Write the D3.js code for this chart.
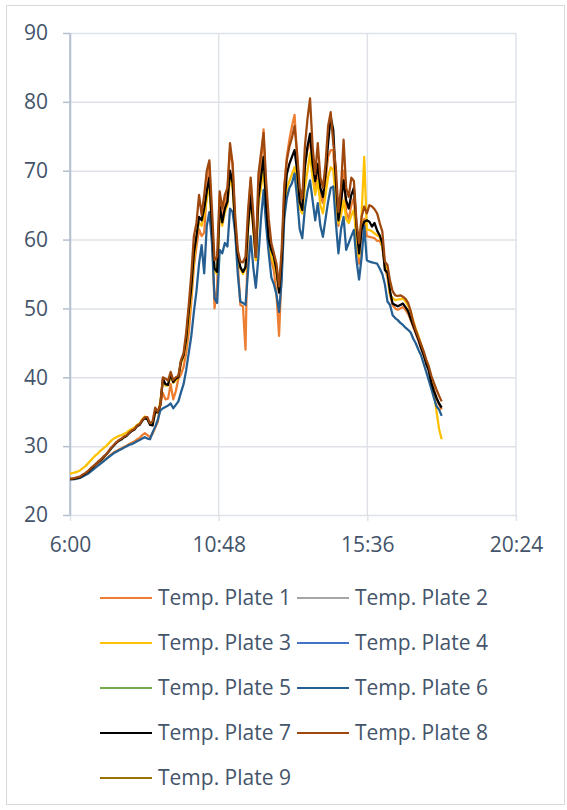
<!DOCTYPE html>
<html><head><meta charset="utf-8">
<script src="https://cdn.jsdelivr.net/npm/d3@7"></script>
<style>
body{margin:0;background:#fff}
svg text{font-family:"Open Sans","Noto Sans",sans-serif;fill:#44546A}
</style>
</head><body>
<svg id="c" width="567" height="810"></svg>
<script>
// ---- data (5-minute samples from 6:00 to 18:00) ----
const startMinute = 360, stepMinutes = 5;
const plate1 = [
25.3,25.3,25.3,25.4,25.5,25.7,25.9,26.1,26.4,26.7,27.0,27.3,
27.6,27.9,28.2,28.5,28.8,29.1,29.3,29.5,29.7,29.9,30.1,30.3,
30.5,30.7,31.0,31.2,31.6,31.9,31.6,31.3,31.8,32.7,33.5,36.0,
37.7,36.8,36.9,39.0,36.8,38.0,39.8,40.4,41.5,43.5,46.5,51.0,
56.0,59.0,61.5,60.5,61.0,67.0,71.0,62.0,50.0,53.0,66.5,63.0,
65.0,67.0,73.0,71.0,62.0,56.5,50.5,50.3,44.0,63.5,68.5,62.5,
57.0,67.5,71.0,76.0,66.0,59.5,57.0,55.5,52.0,46.0,55.5,67.5,
72.0,74.5,76.5,78.1,72.0,66.5,65.5,71.0,73.0,74.5,70.0,67.5,
70.1,66.5,65.3,68.5,72.0,73.0,73.0,66.0,62.0,65.0,70.0,64.0,
63.0,65.0,66.0,60.0,56.5,62.0,63.0,60.5,60.4,60.3,60.2,59.8,
59.8,59.0,56.0,54.5,52.0,50.5,50.0,49.8,50.0,50.2,49.8,49.2,
48.3,47.3,46.3,45.3,44.2,43.2,42.0,41.0,39.5,38.3,37.0,36.0,35.3];
const plate2 = [];
const plate3 = [
26.0,26.1,26.2,26.3,26.5,26.8,27.1,27.5,27.9,28.3,28.7,29.0,
29.4,29.7,30.0,30.4,30.8,31.1,31.3,31.5,31.6,31.8,32.0,32.3,
32.5,32.7,33.1,33.3,33.9,34.3,34.0,33.2,33.1,35.0,34.8,36.5,
39.5,38.8,38.8,40.2,39.2,39.5,40.0,42.0,43.0,45.0,48.5,52.0,
57.0,60.5,62.5,62.0,63.5,66.0,68.0,61.0,55.5,55.0,64.0,62.0,
64.0,65.0,69.0,67.5,61.5,57.5,55.8,55.0,55.8,61.5,66.0,61.5,
57.0,65.0,67.5,70.5,64.0,59.0,57.5,56.5,55.0,52.5,56.0,63.5,
67.5,68.5,69.5,70.5,68.0,64.5,63.8,67.5,70.0,72.5,69.0,66.5,
68.6,65.0,63.8,66.5,69.1,70.5,70.1,65.7,62.4,63.5,65.7,63.0,
62.4,63.5,64.3,60.0,57.5,63.8,72.0,61.4,61.4,61.2,60.9,60.6,
60.4,59.0,56.6,55.0,52.0,51.5,51.2,51.3,51.3,51.5,51.0,50.4,
49.6,48.2,47.0,46.0,44.8,43.5,42.3,41.2,39.5,37.8,35.0,32.5,31.0];
const plate4 = [];
const plate5 = [];
const plate6 = [
25.2,25.2,25.2,25.3,25.4,25.6,25.8,26.0,26.3,26.6,26.9,27.2,
27.5,27.8,28.1,28.4,28.7,29.0,29.2,29.4,29.6,29.8,30.0,30.2,
30.3,30.5,30.7,30.9,31.1,31.3,31.1,31.0,32.0,32.8,33.8,35.2,
35.5,35.7,35.9,36.2,35.5,36.0,36.5,37.8,39.0,41.0,43.5,46.0,
49.5,52.5,56.5,59.2,55.1,62.0,64.0,59.5,51.5,50.8,58.5,58.0,
59.5,59.0,64.5,64.0,61.0,55.0,51.0,50.8,50.5,55.5,60.5,56.0,
53.0,57.5,63.0,67.2,62.0,58.0,54.5,53.5,52.0,49.5,54.0,63.0,
66.0,67.5,68.2,69.6,66.0,61.5,60.2,64.5,67.0,68.6,65.7,62.8,
65.3,62.0,60.4,63.0,65.5,67.5,67.7,62.5,58.0,61.5,63.3,58.5,
59.5,60.5,61.4,57.0,54.2,57.5,62.0,57.0,56.8,56.7,56.6,56.5,
55.8,55.0,53.5,51.0,50.5,49.0,48.6,48.3,47.9,47.6,47.2,46.9,
46.5,45.6,44.9,44.0,43.2,42.0,40.8,39.6,38.3,37.0,35.8,35.3,34.4];
const plate7 = [
25.2,25.2,25.3,25.4,25.5,25.8,26.0,26.3,26.7,27.0,27.4,27.7,
28.0,28.4,28.8,29.2,29.7,30.1,30.5,30.8,31.0,31.3,31.5,31.9,
32.2,32.4,32.9,33.1,33.7,34.1,33.9,33.1,33.0,35.0,34.9,36.0,
39.8,39.0,38.9,40.5,39.3,39.8,40.0,42.3,43.2,45.5,49.5,53.0,
58.0,60.5,63.3,62.8,64.5,67.0,69.0,62.0,55.8,55.3,64.8,62.5,
64.5,65.5,70.0,68.2,62.0,57.8,56.0,55.3,56.0,62.0,66.5,62.0,
57.5,66.0,69.0,72.0,65.0,60.0,58.5,57.5,55.5,52.3,57.0,65.0,
69.5,71.0,72.0,73.0,70.0,65.5,64.3,70.5,73.5,75.4,71.0,68.5,
71.0,67.5,66.2,69.5,74.0,77.8,75.9,68.5,62.8,65.5,68.6,65.7,
64.5,66.5,67.5,62.0,58.0,61.5,62.6,62.8,62.6,61.9,62.4,61.3,
60.6,59.5,55.6,55.2,52.5,50.7,50.5,50.3,50.5,50.7,50.2,49.6,
48.5,47.5,46.5,45.5,44.3,43.3,42.0,41.0,39.2,38.0,37.0,36.2,35.6];
const plate8 = [
25.3,25.3,25.4,25.5,25.6,25.9,26.1,26.4,26.8,27.1,27.4,27.8,
28.1,28.5,28.8,29.3,29.8,30.2,30.6,30.9,31.1,31.4,31.6,32.0,
32.3,32.5,33.0,33.2,33.8,34.2,34.2,33.3,33.6,35.6,35.0,36.0,
40.0,39.8,39.5,40.8,39.6,40.0,40.2,42.5,43.5,46.5,50.5,55.0,
60.5,62.4,66.5,63.6,66.5,70.0,71.5,64.5,57.0,57.5,67.0,64.5,
66.5,67.5,74.0,71.0,63.5,58.5,56.8,56.7,57.5,64.3,69.0,63.8,
57.5,69.5,72.5,75.5,68.5,63.0,59.5,58.0,56.5,53.2,58.5,67.5,
71.5,73.5,74.8,76.5,72.5,67.5,66.0,73.5,77.5,80.5,73.5,69.5,
74.0,69.0,67.5,71.0,76.5,78.5,74.0,70.5,64.0,67.5,74.5,67.5,
66.2,69.0,68.5,62.5,59.5,63.3,64.8,63.8,65.0,64.8,64.4,63.8,
62.4,61.2,56.8,56.3,54.0,52.5,51.9,51.8,51.9,51.7,51.4,50.8,
49.6,48.0,46.8,45.8,44.8,43.8,42.6,41.6,40.2,39.2,38.2,37.3,36.5];
const plate9 = [];

const seriesNames = ["Temp. Plate 1","Temp. Plate 2","Temp. Plate 3","Temp. Plate 4","Temp. Plate 5",
                     "Temp. Plate 6","Temp. Plate 7","Temp. Plate 8","Temp. Plate 9"];
const seriesValues = [plate1,plate2,plate3,plate4,plate5,plate6,plate7,plate8,plate9];
const seriesColors = ["#ED7D31","#A5A5A5","#FFC000","#4472C4","#70AD47","#255E91","#000000","#9E480E","#997300"];
const yTickValues = [20,30,40,50,60,70,80,90];
const xTickHours = [6,10.8,15.6,20.4];
const xTickLabels = ["6:00","10:48","15:36","20:24"];

// ---- drawing ----
const svg = d3.select("#c");
svg.append("rect").attr("x",6.5).attr("y",5.5).attr("width",558).attr("height",799)
  .attr("fill","#fff").attr("stroke","#D9D9D9");

const x = d3.scaleLinear().domain([6,20.4]).range([70,516]);
const y = d3.scaleLinear().domain([20,90]).range([515,33]);
const gridColor = "#DEE2E8", axisColor = "#B4BFCF";
const fontSize = 21;

// horizontal gridlines
svg.append("g").selectAll("line").data(yTickValues.slice(1)).join("line")
  .attr("x1",x(6)).attr("x2",x(20.4)).attr("y1",d=>y(d)+0.5).attr("y2",d=>y(d)+0.5)
  .attr("stroke",gridColor).attr("stroke-width",1.5);
// vertical gridlines
svg.append("g").selectAll("line").data(xTickHours.slice(1)).join("line")
  .attr("x1",d=>x(d)).attr("x2",d=>x(d)).attr("y1",y(90)).attr("y2",y(20))
  .attr("stroke",gridColor).attr("stroke-width",1.5);

// y axis
const yAxis = svg.append("g").attr("transform",`translate(${x(6)},0)`)
  .call(d3.axisLeft(y).tickValues(yTickValues).tickSize(7).tickSizeOuter(0).tickPadding(15).tickFormat(d3.format("d")));
yAxis.select(".domain").attr("stroke",axisColor).attr("stroke-width",1.5);
yAxis.selectAll(".tick line").attr("stroke",axisColor).attr("stroke-width",1.5);
yAxis.selectAll("text").attr("font-size",fontSize).style("fill","#44546A").attr("font-family",null);

// x axis
const xAxis = svg.append("g").attr("transform",`translate(0,${y(20)})`)
  .call(d3.axisBottom(x).tickValues(xTickHours).tickSize(6).tickSizeOuter(0).tickPadding(16)
    .tickFormat((d,i)=>xTickLabels[i]));
xAxis.select(".domain").attr("stroke",gridColor).attr("stroke-width",1.5);
xAxis.selectAll(".tick line").attr("stroke",gridColor).attr("stroke-width",1.5);
xAxis.selectAll("text").attr("font-size",fontSize).style("fill","#44546A").attr("font-family",null);
// redraw y axis line on top
svg.append("line").attr("x1",x(6)).attr("x2",x(6)).attr("y1",y(90)).attr("y2",y(20)+1)
  .attr("stroke",axisColor).attr("stroke-width",1.5);

// series lines
const timeOf = i => (startMinute + stepMinutes*i)/60;
const line = d3.line().x((d,i)=>x(timeOf(i))).y(d=>y(d));
svg.append("g").selectAll("path").data(seriesValues).join("path")
  .attr("d",d=>d.length?line(d):null)
  .attr("fill","none").attr("stroke",(d,i)=>seriesColors[i])
  .attr("stroke-width",2.25).attr("stroke-linejoin","round");

// legend
const legCols = [100,297], legRows = [598,643,688,733,778];
const leg = svg.append("g").selectAll("g").data(seriesNames).join("g")
  .attr("transform",(d,i)=>`translate(${legCols[i%2]},${legRows[Math.floor(i/2)]})`);
leg.append("line").attr("x1",0).attr("x2",52).attr("y1",0).attr("y2",0)
  .attr("stroke",(d,i)=>seriesColors[i]).attr("stroke-width",2);
leg.append("text").attr("x",58).attr("y",0).attr("dy","0.35em").attr("font-size",fontSize).text(d=>d);
</script>
</body></html>
